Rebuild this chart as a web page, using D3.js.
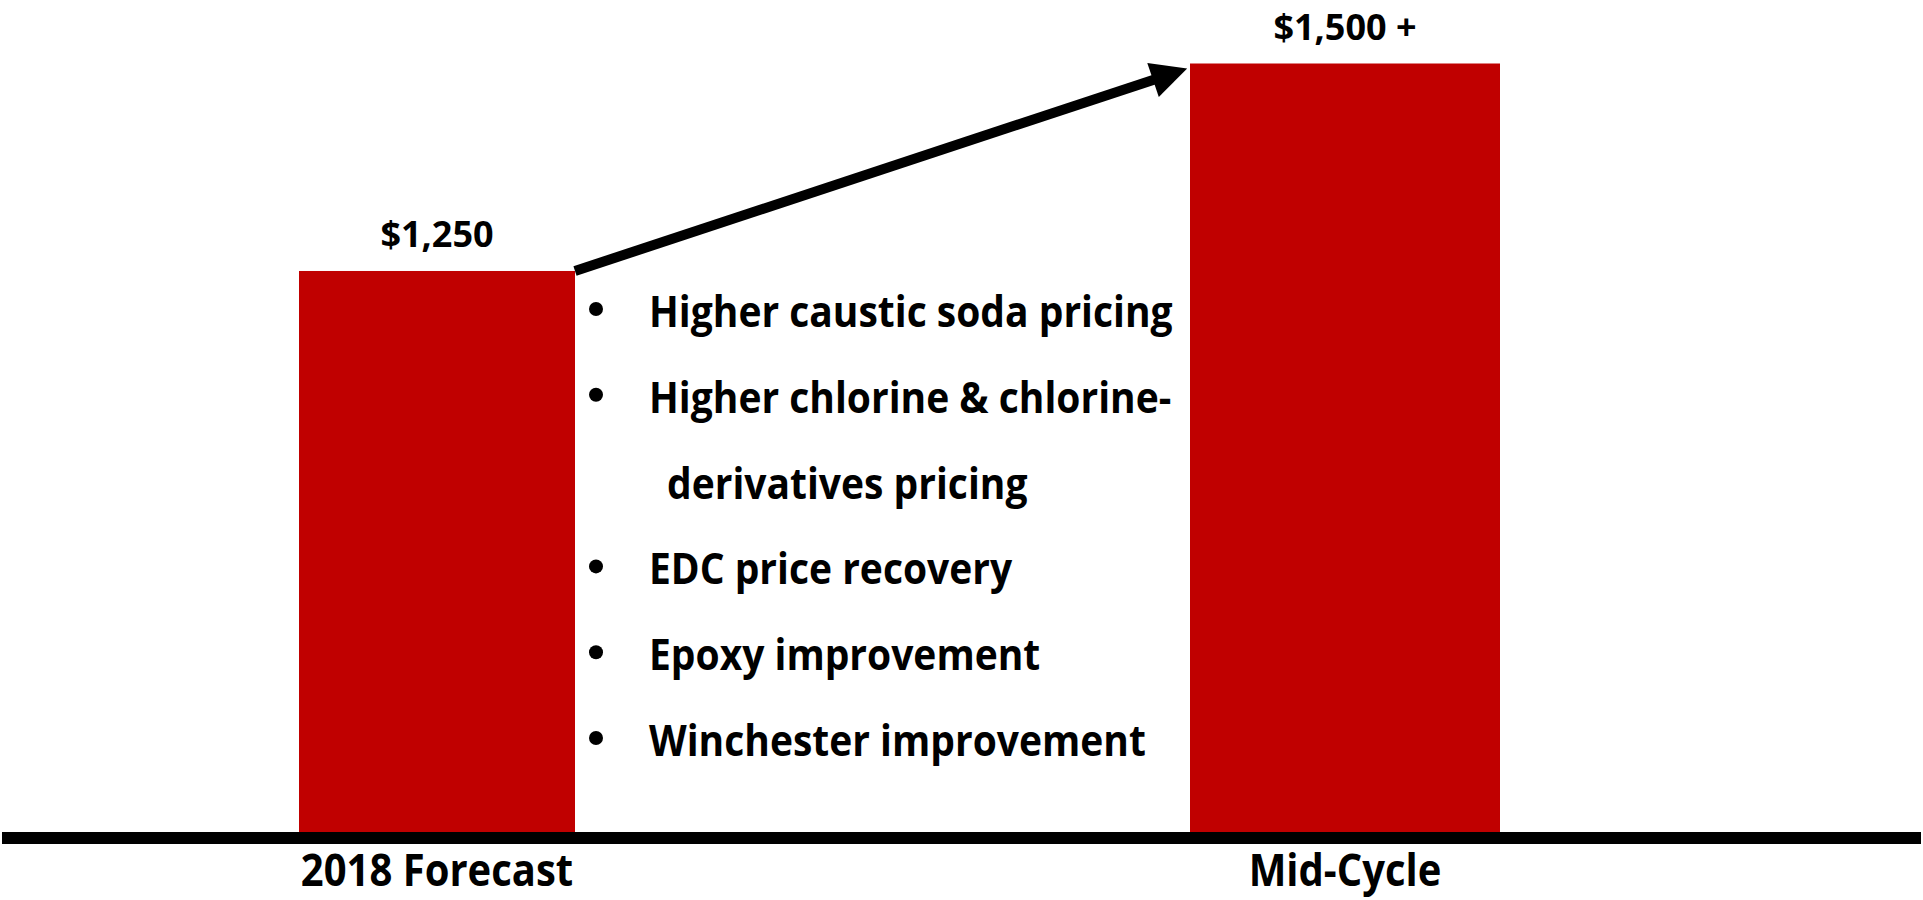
<!DOCTYPE html>
<html><head><meta charset="utf-8">
<script src="https://cdn.jsdelivr.net/npm/d3@7"></script>
<style>
body{margin:0;background:#fff}
svg{display:block}
text{font-family:'Open Sans',sans-serif;font-weight:700;fill:#000}
</style>
</head><body>
<svg id="c" width="1923" height="900"></svg>
<script>
// ---- data ----
const categories = ["2018 Forecast", "Mid-Cycle"];
const values = [1250, 1500];
const valueLabels = ["$1,250", "$1,500 +"];
const bulletItems = [
  ["Higher caustic soda pricing"],
  ["Higher chlorine & chlorine-", "derivatives pricing"],
  ["EDC price recovery"],
  ["Epoxy improvement"],
  ["Winchester improvement"]
];

// ---- layout / style ----
const W = 1923, H = 900;
const baseY = 832;
const barWidths = [276, 310];
const barColor = "#c00000";
const svg = d3.select("#c");

const x = d3.scalePoint().domain(categories).range([437, 1345]);
const y = d3.scaleLinear().domain([574, 1500]).range([baseY, 63.5]);

// bars
svg.selectAll("rect.bar").data(categories).join("rect")
  .attr("class", "bar")
  .attr("x", (d, i) => x(d) - barWidths[i] / 2)
  .attr("width", (d, i) => barWidths[i])
  .attr("y", (d, i) => y(values[i]))
  .attr("height", (d, i) => baseY - y(values[i]))
  .attr("fill", barColor);

// baseline
svg.append("rect").attr("x", 2).attr("y", baseY).attr("width", W - 4).attr("height", 12).attr("fill", "#000");

// value labels
svg.selectAll("text.val").data(categories).join("text")
  .attr("class", "val")
  .attr("x", d => x(d))
  .attr("y", (d, i) => y(values[i]) - 24)
  .attr("text-anchor", "middle")
  .style("font-size", "36px")
  .text((d, i) => valueLabels[i]);

// category labels
svg.selectAll("text.cat").data(categories).join("text")
  .attr("class", "cat")
  .attr("transform", d => `translate(${x(d)},886) scale(1,1.1)`)
  .attr("text-anchor", "middle")
  .style("font-size", "40px")
  .text(d => d);

// arrow
const x0 = x(categories[0]) + barWidths[0] / 2, y0 = y(values[0]);
const x1 = x(categories[1]) - barWidths[1] / 2, y1 = y(values[1]);
const dx = x1 - x0, dy = y1 - y0, len = Math.hypot(dx, dy);
const ux = dx / len, uy = dy / len;
const tipX = x1 - ux * 3, tipY = y1 - uy * 3 + 4;
const headLen = 36, headHalf = 18;
const bX = tipX - ux * headLen, bY = tipY - uy * headLen;
svg.append("line")
  .attr("x1", x0).attr("y1", y0)
  .attr("x2", bX + ux * 4).attr("y2", bY + uy * 4)
  .attr("stroke", "#000").attr("stroke-width", 10);
svg.append("polygon")
  .attr("points", [
    [tipX, tipY],
    [bX - uy * headHalf, bY + ux * headHalf],
    [bX + uy * headHalf, bY - ux * headHalf]
  ].map(p => p.join(",")).join(" "))
  .attr("fill", "#000");

// bullet list
const lineStart = 327, lineStep = 85.8;
let li = 0;
const g = svg.append("g");
bulletItems.forEach(item => {
  item.forEach((line, k) => {
    const by = lineStart + li * lineStep;
    if (k === 0) {
      g.append("circle").attr("cx", 596).attr("cy", by - 18).attr("r", 7).attr("fill", "#000");
    }
    g.append("text")
      .attr("transform", `translate(${k === 0 ? 649 : 667},${by}) scale(1,1.1)`)
      .style("font-size", "39px").text(line);
    li++;
  });
});
</script>
</body></html>
